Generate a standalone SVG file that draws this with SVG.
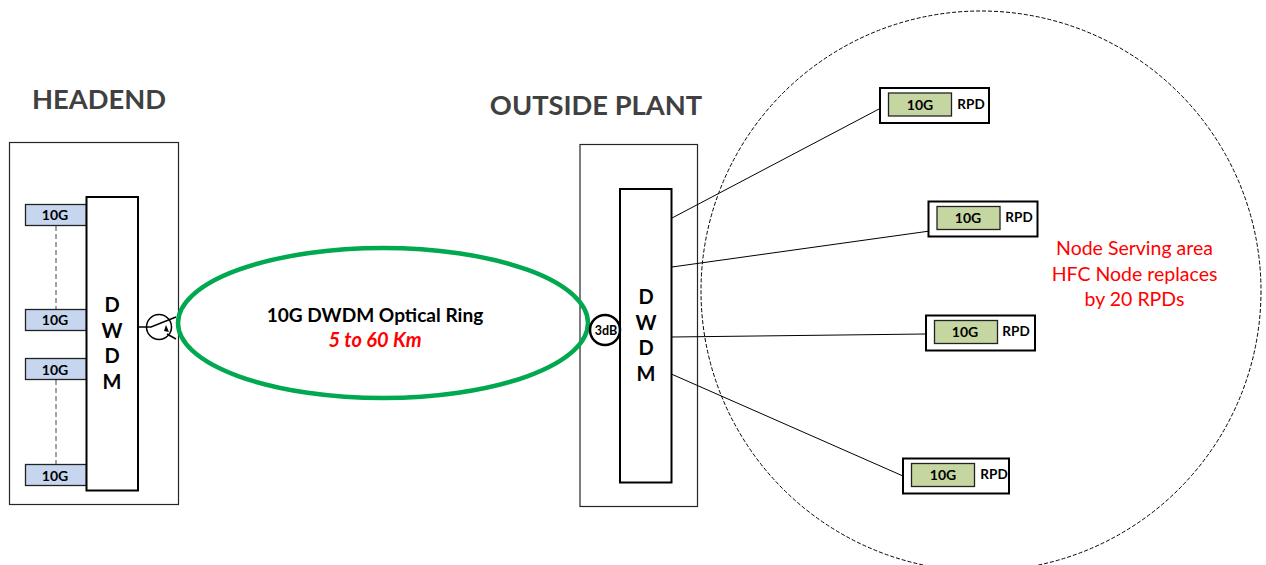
<svg xmlns="http://www.w3.org/2000/svg" width="1266" height="565" viewBox="0 0 1266 565">
<style>
text{font-family:Lato,"Open Sans","Liberation Sans",sans-serif;text-anchor:middle;font-weight:700;fill:#000}
.box{fill:#fff;stroke:#262626;stroke-width:1.2}
.dw{fill:#fff;stroke:#000;stroke-width:2}
.blue{fill:#c5d6ee;stroke:#222;stroke-width:1.3}
.green{fill:#c5d6a0;stroke:#222;stroke-width:1.3}
.rpd{fill:#fff;stroke:#000;stroke-width:2}
.t10{font-size:14px}
.rt{font-size:13.500px}
.d{font-size:20px}
.h{font-size:27.300px;fill:#404040}
.c{fill:none;stroke:#000;stroke-width:1}
.red{font-size:19.500px;font-weight:400;fill:#f00}
</style>
<rect width="1266" height="565" fill="#fff"/>
<g id="headend-title"><text class="h" x="99" y="109">HEADEND</text></g>
<g id="plant-title"><text class="h" x="596" y="115">OUTSIDE PLANT</text></g>
<g id="headend"><rect class="box" x="9.500" y="142.500" width="169" height="362"/></g>
<g id="plant"><rect class="box" x="580" y="144.500" width="117.500" height="362"/></g>
<g id="serving-area"><circle cx="981" cy="291" r="280" fill="none" stroke="#000" stroke-width="1" stroke-dasharray="4 2"/></g>
<g id="connectors">
<path d="M56 226V309M56 380V464" fill="none" stroke="#444" stroke-width="1" stroke-dasharray="5 3"/>
<path class="c" d="M672 218L879 109M672 267L937 230M672 337L925 334M669 373L903 476"/>
<path d="M138 327H151L176 317M167 334L176 339" fill="none" stroke="#000" stroke-width="1.500"/>
</g>
<g id="ring"><ellipse cx="383" cy="323" rx="205" ry="75" fill="none" stroke="#00a84f" stroke-width="4.500"/>
<text x="375" y="322" font-size="19.100">10G DWDM Optical Ring</text>
<text x="375" y="347" font-size="20" font-style="italic" style="fill:#f00">5 to 60 Km</text></g>
<g id="h1"><rect class="blue" x="25.500" y="204.500" width="61" height="21"/><text class="t10" x="55" y="220">10G</text></g>
<g id="h2"><rect class="blue" x="25.500" y="309.500" width="61" height="21"/><text class="t10" x="55" y="325">10G</text></g>
<g id="h3"><rect class="blue" x="25.500" y="358.500" width="61" height="21"/><text class="t10" x="55" y="375">10G</text></g>
<g id="h4"><rect class="blue" x="25.500" y="464.500" width="61" height="21"/><text class="t10" x="55" y="481">10G</text></g>
<g id="dwdm-h"><rect class="dw" x="86.500" y="197" width="51.500" height="293.500"/>
<text class="d" x="112" y="312">D</text><text class="d" x="112" y="338">W</text><text class="d" x="112" y="363">D</text><text class="d" x="112" y="389">M</text></g>
<g id="splitter"><circle cx="159" cy="327" r="12.500" fill="none" stroke="#000" stroke-width="1.500"/><path d="M166 325l3 7-5-1z" fill="#000"/></g>
<g id="dwdm-p"><rect class="dw" x="620" y="189" width="51.500" height="293.500"/>
<text class="d" x="646" y="304">D</text><text class="d" x="646" y="330">W</text><text class="d" x="646" y="355">D</text><text class="d" x="646" y="381">M</text></g>
<g id="db"><circle cx="605" cy="330" r="15" fill="#fff" stroke="#000" stroke-width="2.500"/><text x="606" y="335" font-size="12.500">3dB</text></g>
<g id="r1"><rect class="rpd" x="880" y="88" width="109" height="35"/><rect class="green" x="888.500" y="93" width="63" height="23"/><text class="t10" x="920" y="110">10G</text><text class="rt" x="971" y="109">RPD</text></g>
<g id="r2"><rect class="rpd" x="928.500" y="201.500" width="109" height="35"/><rect class="green" x="937" y="206.500" width="63" height="23"/><text class="t10" x="968" y="223">10G</text><text class="rt" x="1019" y="222">RPD</text></g>
<g id="r3"><rect class="rpd" x="926" y="315.500" width="109" height="35"/><rect class="green" x="934.500" y="320.500" width="63" height="23"/><text class="t10" x="965" y="337">10G</text><text class="rt" x="1016" y="336">RPD</text></g>
<g id="r4"><rect class="rpd" x="903" y="458.500" width="106" height="35"/><rect class="green" x="911.500" y="463.500" width="63" height="23"/><text class="t10" x="943" y="480">10G</text><text class="rt" x="994" y="479">RPD</text></g>
<g id="note"><text class="red" x="1134.500" y="255">Node Serving area</text><text class="red" x="1134.500" y="281">HFC Node replaces</text><text class="red" x="1134.500" y="306">by 20 RPDs</text></g>
</svg>
